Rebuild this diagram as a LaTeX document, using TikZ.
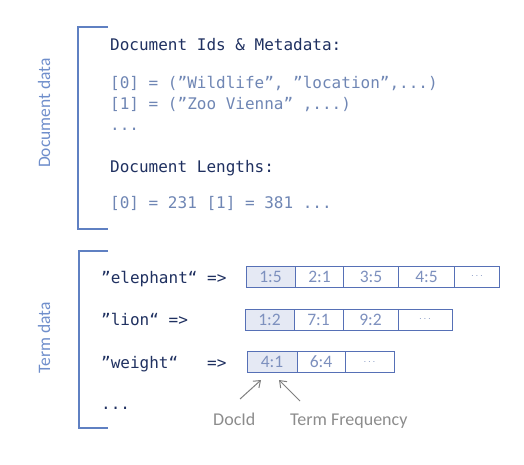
\documentclass[tikz,border=0pt]{standalone}
\usepackage{fontspec}
\setmainfont{Carlito}
\newfontfamily\monof{DejaVu Sans Mono}
\definecolor{navy}{HTML}{1F3060}
\definecolor{datablue}{HTML}{6F86B4}
\definecolor{brk}{HTML}{5F80C2}
\definecolor{lbl}{HTML}{6F8ECB}
\definecolor{cellline}{HTML}{5670B6}
\definecolor{cellfill}{HTML}{E5E9F4}
\definecolor{celltxt}{HTML}{7D90BE}
\definecolor{grayarrow}{HTML}{7F7F7F}
\definecolor{graytxt}{HTML}{8C8C8C}
\tikzset{
  head/.style={font=\monof\fontsize{16}{19}\selectfont, text=navy, anchor=base west, inner sep=0pt},
  datatxt/.style={font=\monof\fontsize{16}{19}\selectfont, text=datablue, anchor=base west, inner sep=0pt},
  sidelbl/.style={font=\fontsize{17.5}{20}\selectfont, text=lbl, rotate=90, inner sep=0pt},
  bracket/.style={draw=brk, line width=1.3pt},
  cellbox/.style={draw=cellline, line width=1pt, fill=white, minimum height=21pt, inner sep=0pt, text=celltxt, font=\fontsize{17.5}{19}\selectfont},
  firstcell/.style={cellbox, fill=cellfill},
  dotcell/.style={cellbox, font=\fontsize{10}{12}\selectfont},
  annot/.style={font=\fontsize{18}{20}\selectfont, text=graytxt, anchor=base west, inner sep=0pt},
  pointer/.style={draw=grayarrow, line width=1pt, -{Straight Barb[length=6pt,width=9pt]}}
}
\usetikzlibrary{arrows.meta}
\begin{document}
\begin{tikzpicture}[x=1pt,y=-1pt]
\useasboundingbox (0,0) rectangle (524,465);
% brackets
\coordinate (b1a) at (108,27);
\coordinate (b1b) at (78,27);
\coordinate (b1c) at (78,229);
\coordinate (b1d) at (108,229);
\draw[bracket] (b1a) -- (b1b) -- (b1c) -- (b1d);
\coordinate (b2a) at (108,251);
\coordinate (b2b) at (79,251);
\coordinate (b2c) at (79,428);
\coordinate (b2d) at (108,428);
\draw[bracket] (b2a) -- (b2b) -- (b2c) -- (b2d);
\node[sidelbl] (ldoc) at (44,113) {Document data};
\node[sidelbl] (lterm) at (44,338) {Term data};
% document data
\node[head] (h1) at (110,51) {Document Ids \& Metadata:};
\node[datatxt] (d0) at (110,89) {[0] = (”Wildlife”, ”location”,...)};
\node[datatxt] (d1) at (110,110) {[1] = (”Zoo Vienna” ,...)};
\node[datatxt] (d2) at (110,131) {...};
\node[head] (h2) at (110,172) {Document Lengths:};
\node[datatxt] (d3) at (110,208) {[0] = 231 [1] = 381 ...};
% term data
\node[head] (t1) at (101,283) {”elephant“ =>};
\node[head] (t2) at (101,325) {”lion“ =>};
\node[head] (t3) at (101,368) {”weight“\ \ \ =>};
\node[head] (t4) at (101,409) {...};
% row 1
\node[firstcell, minimum width=49pt] (e1) at (270.5,276.5) {1:5};
\node[cellbox, minimum width=48pt] (e2) at (319.5,276.5) {2:1};
\node[cellbox, minimum width=55pt] (e3) at (371,276.5) {3:5};
\node[cellbox, minimum width=56pt] (e4) at (426.5,276.5) {4:5};
\node[dotcell, minimum width=45pt] (e5) at (477,276.5) {$\cdots$};
% row 2
\node[firstcell, minimum width=49pt] (l1) at (269.5,319.5) {1:2};
\node[cellbox, minimum width=49pt] (l2) at (318.5,319.5) {7:1};
\node[cellbox, minimum width=55pt] (l3) at (370.5,319.5) {9:2};
\node[dotcell, minimum width=54pt] (l4) at (425,319.5) {$\cdots$};
% row 3
\node[firstcell, minimum width=50pt] (w1) at (272,362) {4:1};
\node[cellbox, minimum width=48pt] (w2) at (321,362) {6:4};
\node[dotcell, minimum width=49pt] (w3) at (369.5,362) {$\cdots$};
% annotations
\node[annot] (docid) at (213,425) {DocId};
\node[annot] (tf) at (290,425) {Term Frequency};
\coordinate (p1s) at (240,399);
\coordinate (p1e) at (261,380);
\coordinate (p2s) at (300,401);
\coordinate (p2e) at (279,380);
\draw[pointer] (p1s) -- (p1e);
\draw[pointer] (p2s) -- (p2e);
\end{tikzpicture}
\end{document}
